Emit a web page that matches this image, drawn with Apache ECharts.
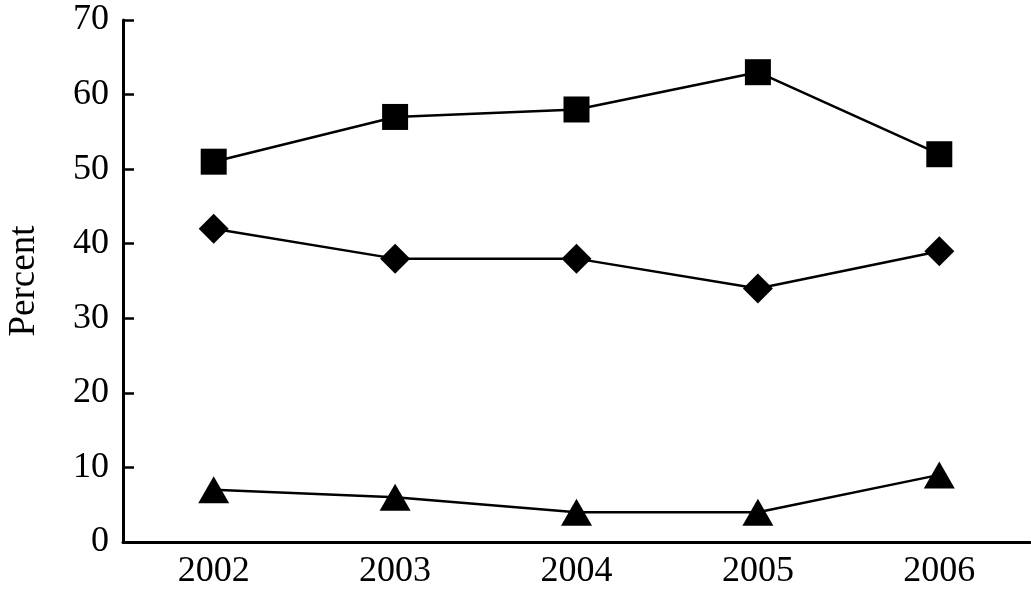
<!DOCTYPE html>
<html>
<head>
<meta charset="utf-8">
<script src="https://cdn.jsdelivr.net/npm/echarts@6/dist/echarts.min.js"></script>
<style>
  html, body { margin: 0; padding: 0; background: #fff; }
  #chart { width: 1031px; height: 596px; }
</style>
</head>
<body>
<div id="chart"></div>
<script>
const years = ['2002', '2003', '2004', '2005', '2006'];
const squareValues = [51, 57, 58, 63, 52];
const diamondValues = [42, 38, 38, 34, 39];
const triangleValues = [7, 6, 4, 4, 9];
const yTicks = [0, 10, 20, 30, 40, 50, 60, 70];

const font = 'Liberation Serif';

function lineSeries(data, symbol, size) {
  return {
    type: 'line',
    data: data,
    symbol: symbol,
    symbolSize: size,
    showSymbol: true,
    animation: false,
    lineStyle: { color: '#000', width: 2.5 },
    itemStyle: { color: '#000' },
    emphasis: { disabled: true }
  };
}

const myChart = echarts.init(document.getElementById('chart'));
const option = {
  backgroundColor: '#fff',
  grid: {
    left: 123, right: 1, top: 20, bottom: 54,
    containLabel: false,
    outerBoundsMode: 'none'
  },
  xAxis: {
    type: 'category',
    data: years,
    boundaryGap: true,
    axisLine: { lineStyle: { color: '#000', width: 3 } },
    axisTick: { inside: true, length: 11, lineStyle: { color: '#000', width: 2.5 }, alignWithLabel: false },
    axisLabel: { color: '#000', fontFamily: font, fontSize: 36, margin: 12 },
    splitLine: { show: false }
  },
  yAxis: {
    type: 'value',
    min: yTicks[0],
    max: yTicks[yTicks.length - 1],
    interval: 10,
    name: 'Percent',
    nameLocation: 'middle',
    nameRotate: 90,
    nameGap: 80,
    nameTextStyle: { color: '#000', fontFamily: font, fontSize: 37 },
    axisLine: { show: true, lineStyle: { color: '#000', width: 3 } },
    axisTick: { show: true, inside: true, length: 11, lineStyle: { color: '#000', width: 2.5 } },
    axisLabel: { color: '#000', fontFamily: font, fontSize: 36, margin: 14 },
    splitLine: { show: false }
  },
  series: [
    lineSeries(squareValues, 'rect', 26),
    lineSeries(diamondValues, 'diamond', [30, 30]),
    lineSeries(triangleValues, 'triangle', [31, 27])
  ]
};
myChart.setOption(option);
window.onresize = myChart.resize;
</script>
</body>
</html>
